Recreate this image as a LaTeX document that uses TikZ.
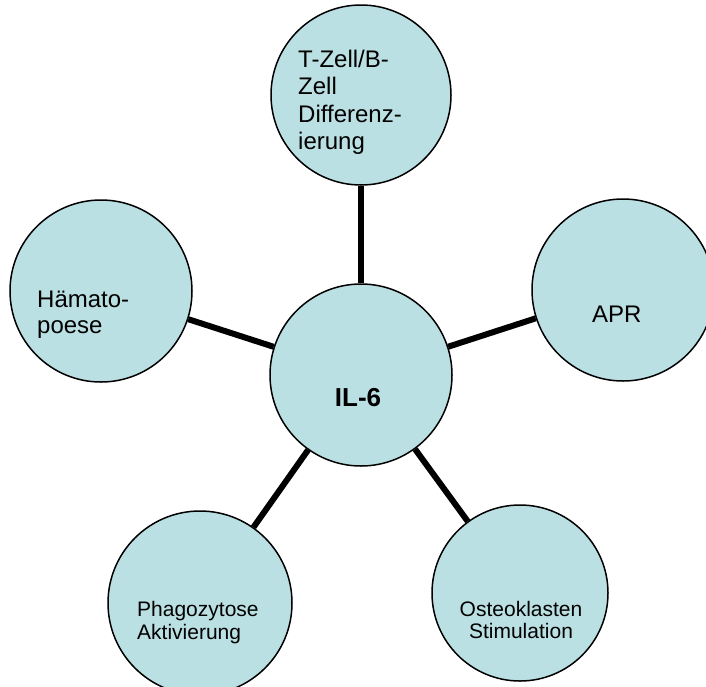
\documentclass[tikz,border=0pt]{standalone}
\usepackage{fontspec}
\setmainfont{Liberation Sans}
\definecolor{cellblue}{RGB}{187,224,227}
\begin{document}
\begin{tikzpicture}[x=1pt,y=-1pt,
  bubble/.style={circle, draw=black, line width=1.5pt, fill=cellblue, inner sep=0pt, minimum size=#1},
  link/.style={line width=6pt, black},
  lbl/.style={inner sep=0pt, align=left, anchor=base west},
  big/.style={font=\fontsize{24}{27.5}\selectfont},
  small/.style={font=\fontsize{21}{22.5}\selectfont}]
\clip (0,0) rectangle (706,686);
\fill[white] (0,0) rectangle (706,686);
% circles
\node[bubble=182pt] (il6)  at (361,375) {};
\node[bubble=180pt] (nTop) at (361,95) {};
\node[bubble=182pt] (nLeft) at (101,291) {};
\node[bubble=182pt] (nRight) at (623,290) {};
\node[bubble=184pt] (nBL) at (200,603) {};
\node[bubble=176pt] (nBR) at (520,593) {};
% connectors
\draw[link] (il6) -- (nTop);
\draw[link] (il6) -- (nLeft);
\draw[link] (il6) -- (nRight);
\draw[link] (il6) -- (nBL);
\draw[link] (il6) -- (nBR);
% texts (base anchor = baseline of the last line)
\node[lbl, big] (tTop) at (298,149.5) {T-Zell/B-\\Zell\\Differenz-\\ierung};
\node[lbl, font=\fontsize{24}{26.5}\selectfont] (tLeft) at (37,333.5) {Hämato-\\poese};
\node[lbl, big] (tRight) at (592,322) {APR};
\node[inner sep=0pt, anchor=base, font=\bfseries\fontsize{26}{30}\selectfont] (tIL) at (358,406) {IL-6};
\node[lbl, font=\fontsize{21}{23}\selectfont] (tBL) at (137,639) {Phagozytose\\Aktivierung};
\node[inner sep=0pt, align=center, anchor=base, small] (tBR) at (521,638.5) {Osteoklasten\\Stimulation};
\end{tikzpicture}
\end{document}
